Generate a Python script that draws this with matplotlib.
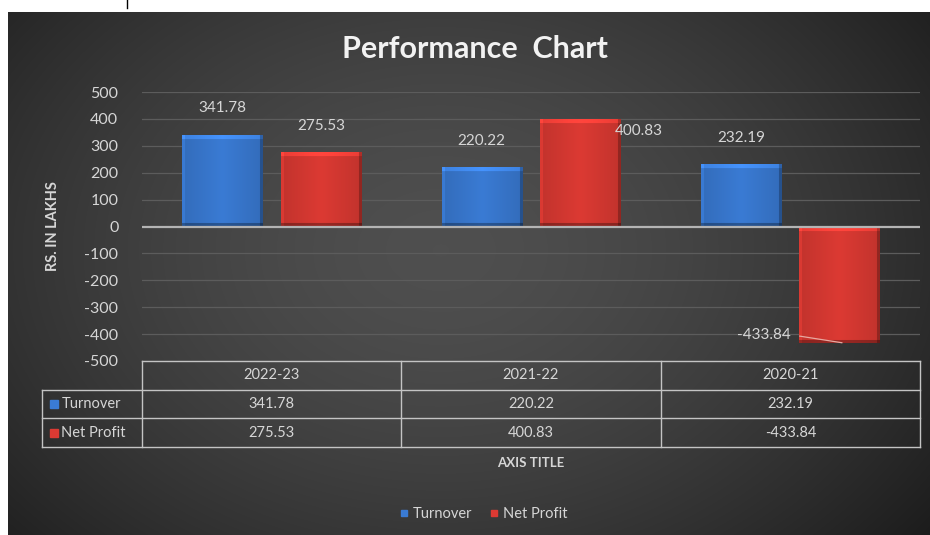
import numpy as np
import matplotlib
matplotlib.use("Agg")
import matplotlib.pyplot as plt
from matplotlib.lines import Line2D
import matplotlib.colors as mcolors

### chart data
categories = ['2022-23', '2021-22', '2020-21']
series_names = ['Turnover', 'Net Profit']
turnover = [341.78, 220.22, 232.19]
net_profit = [275.53, 400.83, -433.84]
yticks = [500, 400, 300, 200, 100, 0, -100, -200, -300, -400, -500]

BLUE = '#3a7bd4'
RED = '#dc3a33'
TXT = '#d6d6d6'
FONT = 'Lato'

W, H = 930, 535
fig = plt.figure(figsize=(W / 100, H / 100), dpi=100)
fig.patch.set_facecolor('white')

### background: dark radial gradient card
bg = fig.add_axes([0, 0, 1, 1], zorder=-5)
bg.axis('off')
yy, xx = np.mgrid[0:H, 0:W]
d = np.sqrt(((xx - 440) / 540.0) ** 2 + ((yy - 250) / 400.0) ** 2)
v = np.clip(0.31 - 0.16 * d ** 1.6, 0.11, 1)
img = np.dstack([v, v, v])
outside = (xx < 8) | (yy < 12)
img[outside] = 1.0
bg.imshow(img, extent=[0, W, H, 0], aspect='auto', interpolation='bilinear')
bg.set_xlim(0, W)
bg.set_ylim(H, 0)
bg.plot([127, 127], [0, 8], color='black', lw=1)


def px(x0, y0, x1, y1):
    # pixel box (from top-left) -> figure fraction rect
    return [x0 / W, 1 - y1 / H, (x1 - x0) / W, (y1 - y0) / H]


### main plot axes
ax = fig.add_axes(px(142, 92, 920, 361))
ax.set_facecolor('none')
ax.set_xlim(0, 3)
ax.set_ylim(-500, 500)
for s in ax.spines.values():
    s.set_visible(False)
ax.set_yticks(yticks)
ax.set_yticklabels([str(t) for t in yticks], fontsize=11.5, color=TXT, family=FONT)
ax.tick_params(axis='y', length=0, pad=17)
ax.set_xticks([])
for t in yticks:
    if t == 0:
        continue
    ax.axhline(t, color='#5c5c5c', lw=0.9, zorder=0)
ax.axhline(0, color='#b4b4b4', lw=1.6, zorder=3)

centers = np.arange(3) + 0.5
bw = 0.31
off = 0.19


def shade_bar(patch, base):
    x0 = patch.get_x()
    w = patch.get_width()
    y0 = patch.get_y()
    h = patch.get_height()
    ylo, yhi = min(y0, y0 + h), max(y0, y0 + h)
    p0 = ax.transData.transform((x0, ylo))
    p1 = ax.transData.transform((x0 + w, yhi))
    nx = max(int(p1[0] - p0[0]), 2)
    ny = max(int(p1[1] - p0[1]), 2)
    u = (np.arange(nx) + 0.5) / nx
    fac = np.ones((ny, nx))
    fac *= (1.0 - 0.12 * np.abs(u - 0.5) * 2)[None, :]
    fac[:, :3] *= 1.12
    fac[:, -3:] *= 0.75
    fac[:5, :] *= 1.2
    fac[-3:, :] *= 0.7
    rgb = np.array(mcolors.to_rgb(base))
    arr = np.clip(fac[:, :, None] * rgb[None, None, :], 0, 1)
    im = ax.imshow(arr, extent=[x0, x0 + w, ylo, yhi], aspect='auto',
                   interpolation='bilinear', zorder=2)
    im.set_clip_path(patch)


b1 = ax.bar(centers - off, turnover, bw, color=BLUE, zorder=2, lw=0)
b2 = ax.bar(centers + off, net_profit, bw, color=RED, zorder=2, lw=0)
for p in b1:
    shade_bar(p, BLUE)
for p in b2:
    shade_bar(p, RED)
ax.set_xlim(0, 3)
ax.set_ylim(-500, 500)

# data labels
for i, v in enumerate(turnover):
    ax.annotate(f'{v:.2f}', (centers[i] - off, v), xytext=(0, 14),
                textcoords='offset points', ha='center', va='bottom',
                fontsize=11, color=TXT, family=FONT)
for i, v in enumerate(net_profit):
    if i == 0:
        ax.annotate(f'{v:.2f}', (centers[i] + off, v), xytext=(0, 14),
                    textcoords='offset points', ha='center', va='bottom',
                    fontsize=11, color=TXT, family=FONT)
    elif v > 0:
        ax.annotate(f'{v:.2f}', (centers[i] + off + bw / 2, v), xytext=(-4, -9),
                    textcoords='offset points', ha='left', va='center',
                    fontsize=11, color=TXT, family=FONT)
    else:
        ax.annotate(f'{v:.2f}', (centers[i] + off - bw / 2, v), xytext=(-6, 6),
                    textcoords='offset points', ha='right', va='center',
                    fontsize=11, color=TXT, family=FONT)
        ax.annotate('', (centers[i] + off + 0.02, v), xytext=(centers[i] + off - bw / 2 - 0.01, v + 28),
                    arrowprops=dict(arrowstyle='-', color='#e8a8a0', lw=0.9), zorder=5)

ax.set_ylabel('RS. IN LAKHS', fontsize=10.5, fontweight='bold', color=TXT,
              family=FONT, labelpad=14)
ax.yaxis.set_label_coords(-0.106, 0.5)

fig.text(475 / W, 1 - 49 / H, 'Performance  Chart', ha='center', va='center',
         fontsize=22, fontweight='bold', color='#f2f2f2', family=FONT)

### data table under the axis
tb = fig.add_axes(px(142, 361, 920, 447))
tb.set_xlim(0, 3)
tb.set_ylim(3, 0)
tb.axis('off')
lc = '#c4c4c4'
lw = 1.0
left = -100 / 259.3
tb.plot([0, 3], [0, 0], color=lc, lw=lw, clip_on=False)
for yv in [1, 2, 3]:
    tb.plot([left, 3], [yv, yv], color=lc, lw=lw, clip_on=False)
tb.plot([left, left], [1, 3], color=lc, lw=lw, clip_on=False)
for xv in [0, 1, 2, 3]:
    tb.plot([xv, xv], [0, 3], color=lc, lw=lw, clip_on=False)
for j, c in enumerate(categories):
    tb.text(j + 0.5, 0.5, c, ha='center', va='center', fontsize=10.5, color=TXT, family=FONT)
    tb.text(j + 0.5, 1.5, f'{turnover[j]:.2f}', ha='center', va='center',
            fontsize=10.5, color=TXT, family=FONT)
    tb.text(j + 0.5, 2.5, f'{net_profit[j]:.2f}', ha='center', va='center',
            fontsize=10.5, color=TXT, family=FONT)
for k, (name, col) in enumerate(zip(series_names, [BLUE, RED])):
    tb.plot([left + 0.045], [k + 1.5], marker='s', ms=6, color=col, clip_on=False)
    tb.text(left + 0.075, k + 1.5, name, ha='left', va='center', fontsize=10.5,
            color=TXT, family=FONT)

fig.text(531 / W, 1 - 463 / H, 'AXIS TITLE', ha='center', va='center',
         fontsize=9.5, fontweight='bold', color=TXT, family=FONT)

### legend
handles = [Line2D([], [], ls='none', marker='s', ms=5, color=BLUE),
           Line2D([], [], ls='none', marker='s', ms=5, color=RED)]
leg = fig.legend(handles, series_names, loc='center', bbox_to_anchor=(482 / W, 1 - 514 / H),
                 ncol=2, frameon=False, handletextpad=0.1, columnspacing=1.0,
                 handlelength=1.0, prop={'family': FONT, 'size': 10.5})
for t in leg.get_texts():
    t.set_color(TXT)

fig.savefig('out.png', dpi=100)
